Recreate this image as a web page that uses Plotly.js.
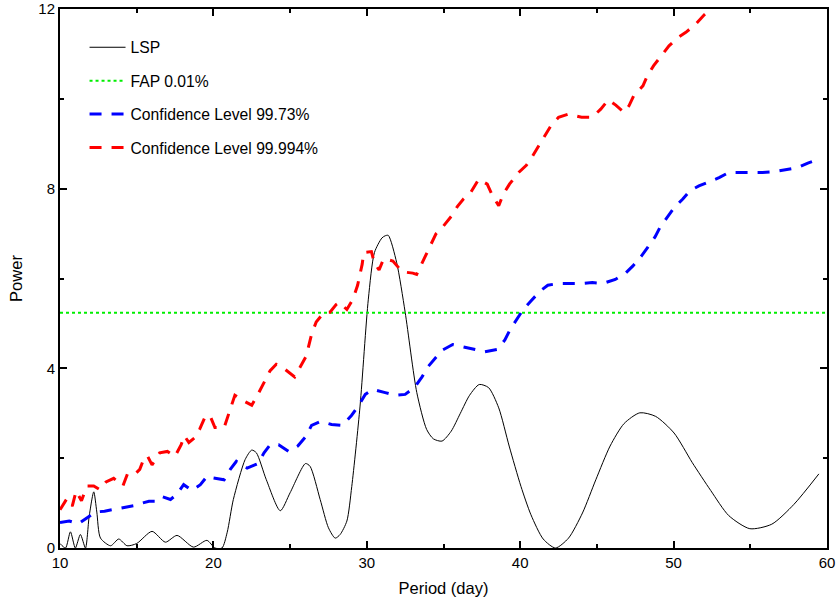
<!DOCTYPE html>
<html>
<head>
<meta charset="utf-8">
<script src="https://cdn.plot.ly/plotly-3.0.1.min.js"></script>
<style>html,body{margin:0;padding:0;background:#fff;}#chart{width:836px;height:603px;}</style>
</head>
<body>
<div id="chart"></div>
<script>
// LSP periodogram
const lspPeriod = [10.0,10.36,10.68,11.0,11.33,11.66,11.9,12.2,12.4,12.64,13.3,13.83,14.37,15.0,16.0,16.87,17.63,18.7,19.58,20.1,20.56,20.9,21.3,22.07,22.5,22.8,23.45,24.36,25.0,26.0,26.3,26.96,27.5,27.94,28.26,28.7,29.02,29.56,30.1,30.5,30.98,31.19,31.4,31.95,32.5,33.26,33.9,34.34,34.9,35.5,36.1,36.7,37.33,37.94,38.6,39.28,40.05,40.7,41.5,42.3,43.15,44.06,44.93,45.86,46.77,47.8,48.83,50.03,51.22,52.42,53.6,54.97,56.4,57.84,59.47];
const lspPower  = [0.1,0.0,0.36,0.0,0.3,0.0,0.7,1.25,0.8,0.22,0.05,0.2,0.05,0.1,0.37,0.13,0.28,0.02,0.17,0.0,0.0,0.35,1.08,1.97,2.18,2.12,1.52,0.83,1.23,1.88,1.82,1.08,0.45,0.22,0.3,0.6,1.37,3.16,5.54,6.58,6.9,6.95,6.96,6.35,5.25,3.46,2.64,2.43,2.38,2.6,3.0,3.4,3.64,3.57,3.12,2.27,1.37,0.74,0.2,0.0,0.22,0.78,1.52,2.27,2.77,3.01,2.93,2.56,1.9,1.28,0.72,0.43,0.53,0.97,1.65];

// False alarm probability level
const fapPeriod = [10, 60];
const fapPower  = [5.24, 5.24];

// Confidence level 99.73%
const cl1Period = [10.0,10.6,11.2,11.9,12.3,12.9,13.5,13.9,14.4,14.8,15.25,15.8,16.2,16.6,17.2,17.6,18.06,18.6,19.15,19.6,20.0,20.7,21.1,21.5,22.2,22.9,23.3,23.7,24.25,24.9,25.5,26.0,26.4,27.0,27.7,28.4,29.0,29.45,29.9,30.4,31.2,31.85,32.5,33.1,33.6,34.0,34.5,34.95,35.6,36.25,37.0,37.7,38.5,39.0,39.35,39.8,40.2,40.7,41.3,41.8,42.5,43.2,44.0,44.7,45.4,46.2,46.9,47.35,47.9,48.3,48.8,49.1,49.6,50.0,50.6,51.05,51.65,52.3,53.0,53.6,54.4,55.1,55.8,56.6,57.35,58.1,58.75,59.5];
const cl1Power  = [0.57,0.6,0.54,0.7,0.8,0.82,0.86,0.89,0.91,0.94,0.99,1.04,1.04,1.15,1.08,1.19,1.41,1.28,1.41,1.6,1.56,1.52,1.75,1.93,1.78,1.88,2.12,2.3,2.3,2.15,2.27,2.47,2.73,2.82,2.75,2.73,2.95,3.16,3.42,3.53,3.46,3.4,3.42,3.57,3.81,4.04,4.24,4.41,4.53,4.48,4.41,4.37,4.42,4.63,4.87,5.09,5.31,5.5,5.72,5.85,5.89,5.89,5.89,5.91,5.89,5.98,6.13,6.28,6.5,6.69,6.93,7.13,7.36,7.56,7.77,7.95,8.06,8.15,8.25,8.36,8.36,8.36,8.36,8.38,8.42,8.47,8.57,8.66];

// Confidence level 99.994%
const cl2Period = [10.0,10.45,10.8,11.05,11.4,11.75,12.2,12.6,13.0,13.5,14.1,14.4,14.9,15.2,15.5,15.7,16.0,16.5,17.0,17.5,17.9,18.1,18.4,18.8,19.1,19.5,19.8,20.1,20.7,21.0,21.4,22.0,22.5,22.9,23.3,23.7,24.1,24.4,25.3,25.7,26.05,26.4,26.7,27.2,27.6,28.0,28.2,28.7,29.1,29.4,29.7,29.8,30.3,30.5,30.8,31.1,31.7,32.3,33.0,33.25,33.5,33.8,34.1,34.5,35.0,35.5,35.9,36.3,36.8,37.3,37.85,38.2,38.6,38.9,39.3,39.9,40.4,40.8,41.2,41.6,42.0,42.5,43.15,44.0,44.7,45.25,45.75,46.23,46.77,47.1,47.4,48.0,48.3,48.7,49.2,49.7,50.3,50.8,51.4,52.0,52.5,53.5];
const cl2Power  = [0.85,1.1,0.93,1.27,1.05,1.38,1.38,1.3,1.47,1.55,1.38,1.65,1.65,1.75,2.02,2.05,1.85,2.12,2.15,2.04,2.3,2.5,2.35,2.46,2.64,2.95,2.93,2.68,2.68,3.0,3.4,3.27,3.18,3.42,3.7,3.95,4.09,4.05,3.81,4.04,4.27,4.76,5.03,5.24,5.25,5.42,5.47,5.31,5.54,5.85,6.32,6.58,6.6,6.34,6.19,6.44,6.39,6.15,6.12,6.09,6.27,6.5,6.74,6.99,7.17,7.38,7.6,7.77,7.93,8.21,8.1,7.84,7.62,7.88,8.1,8.36,8.52,8.72,8.95,9.19,9.4,9.59,9.66,9.59,9.59,9.77,9.98,9.86,9.7,9.85,10.07,10.29,10.52,10.74,10.96,11.18,11.37,11.48,11.65,11.87,12.02,12.4];

const traces = [
  {x: lspPeriod, y: lspPower, name: 'LSP', mode: 'lines', legendgroup: 'a',
   line: {color: '#000000', width: 1, shape: 'spline', smoothing: 0.7}},
  {x: fapPeriod, y: fapPower, name: 'FAP 0.01%', mode: 'lines', legendgroup: 'b',
   line: {color: '#00ee00', width: 2, dash: 'dot'}},
  {x: cl1Period, y: cl1Power, name: 'Confidence Level 99.73%', mode: 'lines', legendgroup: 'c',
   line: {color: '#0000ff', width: 3, dash: '12px,10px'}},
  {x: cl2Period, y: cl2Power, name: 'Confidence Level 99.994%', mode: 'lines', legendgroup: 'd',
   line: {color: '#ff0000', width: 3, dash: '12px,10px'}}
];

const axisCommon = {
  showgrid: false, zeroline: false, showline: true, linecolor: '#000', linewidth: 2,
  mirror: 'ticks', ticks: 'inside', ticklen: 7, tickwidth: 2, tickcolor: '#000',
  tickfont: {family: 'Liberation Sans, Arial, sans-serif', size: 15, color: '#000'}
};

const layout = {
  width: 836, height: 603,
  margin: {l: 60, r: 9, t: 9, b: 55},
  paper_bgcolor: '#fff', plot_bgcolor: '#fff',
  font: {family: 'Liberation Sans, Arial, sans-serif', color: '#000'},
  xaxis: Object.assign({}, axisCommon, {
    range: [10, 60], tick0: 10, dtick: 10,
    minor: {ticks: 'inside', dtick: 5, ticklen: 4, tickwidth: 2, tickcolor: '#000'},
    title: {text: 'Period (day)', font: {size: 16.5}, standoff: 12}
  }),
  yaxis: Object.assign({}, axisCommon, {
    range: [0, 12], tick0: 0, dtick: 4,
    minor: {ticks: 'inside', dtick: 2, ticklen: 4, tickwidth: 2, tickcolor: '#000'},
    title: {text: 'Power', font: {size: 16.5}, standoff: 12}
  }),
  showlegend: true,
  legend: {x: 0.032, y: 0.96, xanchor: 'left', yanchor: 'top', bgcolor: 'rgba(0,0,0,0)',
           traceorder: 'grouped', tracegroupgap: 10, itemwidth: 36,
           font: {family: 'Liberation Sans, Arial, sans-serif', size: 15.7, color: '#000'}}
};

Plotly.newPlot('chart', traces, layout, {displayModeBar: false, staticPlot: true});
</script>
</body>
</html>
